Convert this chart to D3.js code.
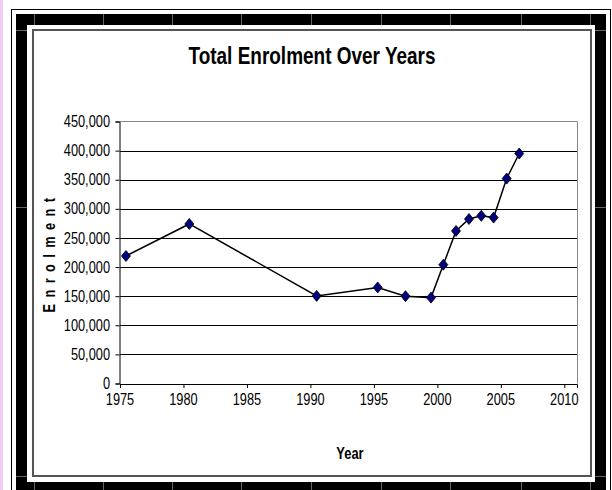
<!DOCTYPE html>
<html><head><meta charset="utf-8">
<script src="https://cdn.jsdelivr.net/npm/d3@7/dist/d3.min.js"></script>
<style>
html,body{margin:0;padding:0;background:#fff;}
svg{display:block;}
text{font-family:"Liberation Sans",Arial,sans-serif;}
</style></head>
<body>
<script>
// ---- data ----
const title = "Total Enrolment Over Years";
const xTitle = "Year";
const yTitle = "Enrolment";
const years = [1975.47, 1980.46, 1990.49, 1995.3, 1997.49, 1999.5, 2000.47, 2001.47, 2002.49, 2003.46, 2004.43, 2005.46, 2006.45];
const enrolment = [219000, 274000, 150500, 165000, 150000, 147500, 204000, 262000, 282500, 288000, 285000, 352000, 395000];
const xTicks = [1975, 1980, 1985, 1990, 1995, 2000, 2005, 2010];
const yTicks = [0, 50000, 100000, 150000, 200000, 250000, 300000, 350000, 400000, 450000];

const W = 612, H = 490;
const svg = d3.select("body").append("svg").attr("width", W).attr("height", H);

// ---- outer decoration (spreadsheet frame) ----
svg.append("rect").attr("x",0).attr("y",0).attr("width",3).attr("height",H).attr("fill","#f5cbf5");
svg.append("rect").attr("x",11.5).attr("y",9.5).attr("width",599).attr("height",H).attr("fill","none").attr("stroke","#000").attr("stroke-width",1);
// thick black frame
svg.append("path")
  .attr("d", `M16,14 H606 V${H+2} H16 Z M27,25 V482 H595 V25 Z`)
  .attr("fill","#000").attr("fill-rule","evenodd");
// faint cell grid lines visible over black frame
const gx = [34, 103, 172, 241, 311, 381, 450, 521, 590];
const gy = [30, 207, 476];
gx.forEach(v => {
  svg.append("line").attr("x1",v+0.5).attr("x2",v+0.5).attr("y1",14).attr("y2",25).attr("stroke","#666");
  svg.append("line").attr("x1",v+0.5).attr("x2",v+0.5).attr("y1",482).attr("y2",H).attr("stroke","#666");
});
gy.forEach(v => {
  svg.append("line").attr("x1",16).attr("x2",27).attr("y1",v+0.5).attr("y2",v+0.5).attr("stroke","#666");
  svg.append("line").attr("x1",595).attr("x2",606).attr("y1",v+0.5).attr("y2",v+0.5).attr("stroke","#666");
});
// inner chart border
svg.append("rect").attr("x",33).attr("y",30).attr("width",558).attr("height",446)
  .attr("fill","#fff").attr("stroke","#555").attr("stroke-width",2);

// ---- scales ----
const x = d3.scaleLinear().domain([1975, 2011]).range([120, 577]);
const y = d3.scaleLinear().domain([0, 450000]).range([383.5, 121.5]);
const SX = 0.8;

// plot area border (top/right gray)
svg.append("path")
  .attr("d", `M${x(1975)},${y(450000)} H${x(2011)+0.5} V${y(0)}`)
  .attr("fill","none").attr("stroke","#888").attr("stroke-width",1);

// gridlines
svg.append("g").selectAll("line").data(yTicks.filter(d => d > 0 && d < 450000)).join("line")
  .attr("x1", x(1975)).attr("x2", x(2011))
  .attr("y1", d => Math.round(y(d)) + 0.5).attr("y2", d => Math.round(y(d)) + 0.5)
  .attr("stroke","#000").attr("stroke-width",1);

// y axis
const yAxis = svg.append("g").attr("transform", `translate(${x(1975)-0.5},0)`)
  .call(d3.axisLeft(y).tickValues(yTicks).tickSize(4).tickPadding(0).tickFormat(() => ""));
yAxis.select(".domain").attr("stroke","#000");
yAxis.selectAll(".tick line").attr("stroke","#000");
svg.append("g").selectAll("text").data(yTicks).join("text")
  .attr("transform", d => `translate(110,${y(d)+5.6}) scale(${SX},1)`)
  .attr("text-anchor","end").attr("font-size",16).attr("fill","#000")
  .text(d => d3.format(",")(d));

// x axis
const xAxis = svg.append("g").attr("transform", `translate(0,${y(0)+0.5})`)
  .call(d3.axisBottom(x).tickValues(xTicks).tickSize(4).tickFormat(() => ""));
xAxis.select(".domain").attr("stroke","#000");
xAxis.selectAll(".tick line").attr("stroke","#000");
svg.append("g").selectAll("text").data(xTicks).join("text")
  .attr("transform", d => `translate(${x(d)},405) scale(${SX},1)`)
  .attr("text-anchor","middle").attr("font-size",16).attr("fill","#000")
  .text(d => d);

// line
const pts = years.map((d, i) => [d, enrolment[i]]);
svg.append("path").datum(pts)
  .attr("d", d3.line().x(d => x(d[0])).y(d => y(d[1])))
  .attr("fill","none").attr("stroke","#000").attr("stroke-width",1.5);

// markers
svg.append("g").selectAll("path").data(pts).join("path")
  .attr("d", "M0,-5.5 L4.5,0 L0,5.5 L-4.5,0 Z")
  .attr("transform", d => `translate(${x(d[0])},${y(d[1])})`)
  .attr("fill","#000080").attr("stroke","#000").attr("stroke-width",0.8);

// titles
svg.append("text").attr("transform", `translate(312,64) scale(0.825,1)`)
  .attr("text-anchor","middle").attr("font-size",23).attr("font-weight","bold").text(title);
svg.append("text").attr("transform", `translate(350,459) scale(0.76,1)`)
  .attr("text-anchor","middle").attr("font-size",17).attr("font-weight","bold").text(xTitle);
svg.append("text").attr("transform", `translate(55,252) rotate(-90) scale(${SX},1)`)
  .attr("text-anchor","middle").attr("font-size",16).attr("font-weight","bold")
  .attr("letter-spacing", 8).text(yTitle);
</script>
</body></html>
